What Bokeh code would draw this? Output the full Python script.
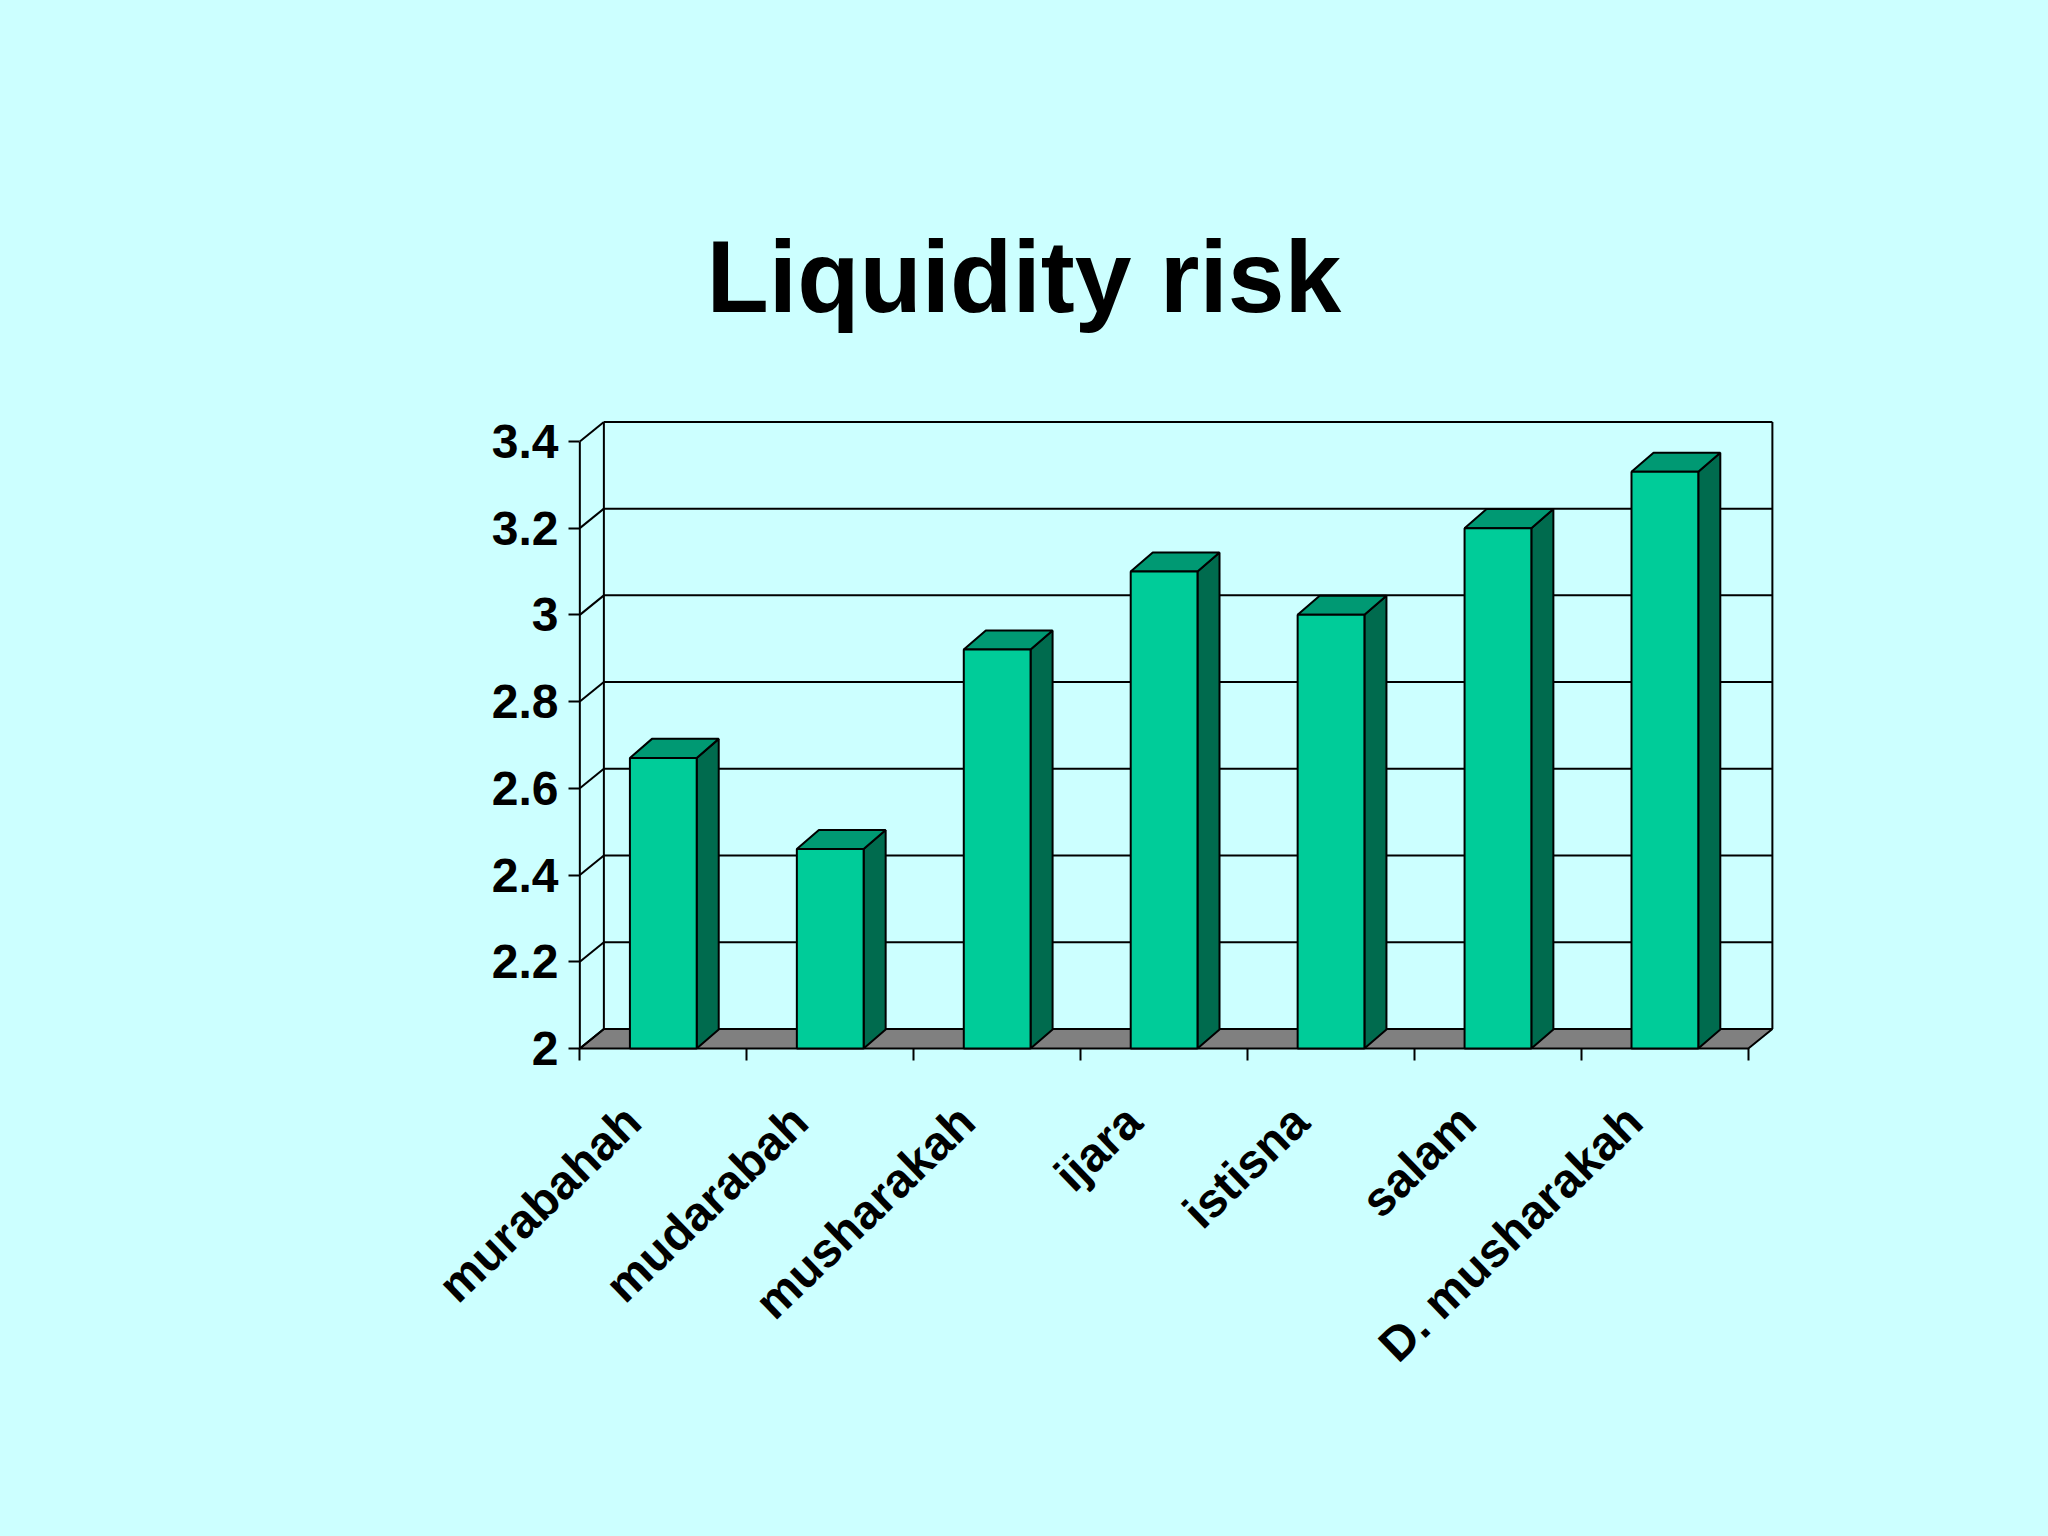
import math
from bokeh.plotting import figure
from bokeh.models import Range1d, FixedTicker
from bokeh.embed import file_html
from bokeh.resources import INLINE

# ---- data ----
categories = ["murabahah", "mudarabah", "musharakah", "ijara", "istisna", "salam", "D. musharakah"]
values = [2.67, 2.46, 2.92, 3.10, 3.00, 3.20, 3.33]
y_ticks = [2.0, 2.2, 2.4, 2.6, 2.8, 3.0, 3.2, 3.4]
y_tick_labels = ["2", "2.2", "2.4", "2.6", "2.8", "3", "3.2", "3.4"]
title_text = "Liquidity risk"

# ---- style / geometry ----
BG = "#CCFFFF"
FRONT = "#00CC99"
TOP = "#009973"
SIDE = "#006B4E"
FLOOR = "#808080"
FONT = "Liberation Sans"

n = len(categories)
base = y_ticks[0]
ymax = y_ticks[-1]
hw = 0.2            # half bar width (category units)
bdx, bdy = 0.132, 0.044   # bar depth
wdx, wdy = 0.144, 0.045   # wall depth

PX_X = 166.93
PX_Y = 433.6
x_start = -0.02
frame_w = 1202
frame_h = 638
y_start = base - 0.007
x_end = x_start + frame_w / PX_X
y_end = y_start + frame_h / PX_Y

p = figure(
    frame_width=frame_w, frame_height=frame_h,
    x_range=Range1d(x_start, x_end), y_range=Range1d(y_start, y_end),
    min_border_left=576, min_border_right=254, min_border_top=413, min_border_bottom=469,
    output_backend="svg", toolbar_location=None, tools="",
    background_fill_color=BG, border_fill_color=BG, outline_line_color=None,
)
p.xgrid.visible = False
p.ygrid.visible = False

# title
p.title.text = title_text
p.title.align = "left"
p.title.offset = 130
p.title.standoff = 159
p.title.text_font = FONT
p.title.text_font_style = "bold"
p.title.text_font_size = "102px"
p.title.text_color = "black"

# floor
p.patch([0, n, n + wdx, wdx], [base, base, base + wdy, base + wdy],
        fill_color=FLOOR, line_color="black", line_width=2)

# back wall gridlines, left wall diagonals and wall edges
gx, gy = [], []
for t in y_ticks[1:]:
    gx.append([wdx, n + wdx]); gy.append([t + wdy, t + wdy])
for t in y_ticks:
    gx.append([0, wdx]); gy.append([t, t + wdy])
gx.append([0, 0]); gy.append([base, ymax])
gx.append([wdx, wdx]); gy.append([base + wdy, ymax + wdy])
gx.append([n + wdx, n + wdx]); gy.append([base + wdy, ymax + wdy])
p.multi_line(gx, gy, line_color="black", line_width=2)

# bars
fx, fy, tx, ty, sx, sy = [], [], [], [], [], []
for i, v in enumerate(values):
    c = i + 0.5
    fx.append([c - hw, c + hw, c + hw, c - hw]); fy.append([base, base, v, v])
    tx.append([c - hw, c + hw, c + hw + bdx, c - hw + bdx]); ty.append([v, v, v + bdy, v + bdy])
    sx.append([c + hw, c + hw + bdx, c + hw + bdx, c + hw]); sy.append([base, base + bdy, v + bdy, v])
p.patches(sx, sy, fill_color=SIDE, line_color="black", line_width=2)
p.patches(tx, ty, fill_color=TOP, line_color="black", line_width=2)
p.patches(fx, fy, fill_color=FRONT, line_color="black", line_width=2)

# y axis
yax = p.yaxis[0]
yax.ticker = FixedTicker(ticks=y_ticks, minor_ticks=[])
yax.major_label_overrides = {t: s for t, s in zip(y_ticks, y_tick_labels)}
yax.axis_line_color = None
yax.major_tick_out = 8
yax.major_tick_in = 3
yax.major_tick_line_width = 2
yax.major_tick_line_color = "black"
yax.minor_tick_line_color = None
yax.major_label_standoff = 10
yax.major_label_text_font = FONT
yax.major_label_text_font_style = "bold"
yax.major_label_text_font_size = "48px"
yax.major_label_text_color = "black"

# x axis (labels at category centres, boundary ticks as minor ticks)
label_shift = -0.183
label_pos = [i + 0.5 + label_shift for i in range(n)]
xax = p.xaxis[0]
xax.ticker = FixedTicker(ticks=label_pos, minor_ticks=list(range(n + 1)))
xax.major_label_overrides = {t: s for t, s in zip(label_pos, categories)}
xax.axis_line_color = None
xax.major_tick_line_color = None
xax.major_tick_out = 0
xax.major_tick_in = 0
xax.minor_tick_line_color = "black"
xax.minor_tick_line_width = 2
xax.minor_tick_in = 3
xax.minor_tick_out = 9
xax.major_label_orientation = math.radians(44)
xax.major_label_standoff = 53
xax.major_label_text_font = FONT
xax.major_label_text_font_style = "bold"
xax.major_label_text_font_size = "48px"
xax.major_label_text_color = "black"

html = file_html(p, INLINE, title=title_text)
html = html.replace("<head>", "<head><style>body{background:#CCFFFF;}</style>", 1)
open("out.html", "w").write(html)
